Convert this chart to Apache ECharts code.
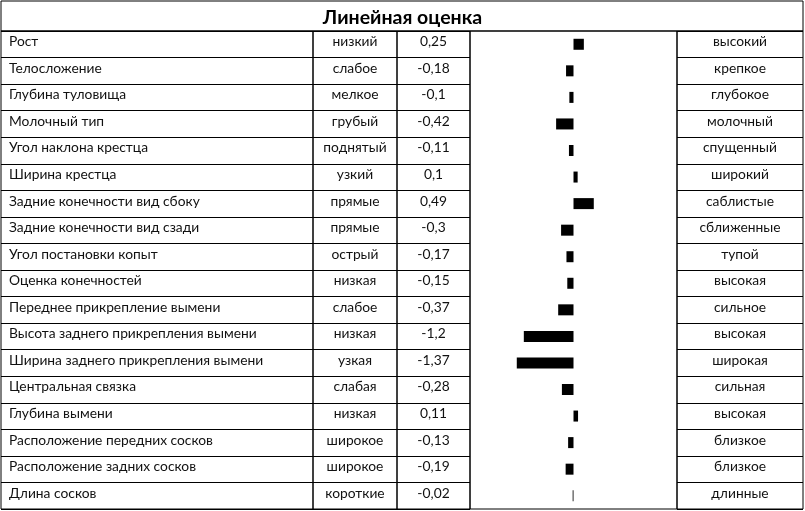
<!DOCTYPE html>
<html><head><meta charset="utf-8">
<script src="https://cdn.jsdelivr.net/npm/echarts@6/dist/echarts.min.js"></script>
<style>html,body{margin:0;padding:0;background:#fff}#c{width:805px;height:511px}</style>
</head><body><div id="c"></div>
<script>
const title = 'Линейная оценка';
const traits = ['Рост','Телосложение','Глубина туловища','Молочный тип','Угол наклона крестца','Ширина крестца','Задние конечности вид сбоку','Задние конечности вид сзади','Угол постановки копыт','Оценка конечностей','Переднее прикрепление вымени','Высота заднего прикрепления вымени','Ширина заднего прикрепления вымени','Центральная связка','Глубина вымени','Расположение передних сосков','Расположение задних сосков','Длина сосков'];
const lowLabels = ['низкий','слабое','мелкое','грубый','поднятый','узкий','прямые','прямые','острый','низкая','слабое','низкая','узкая','слабая','низкая','широкое','широкое','короткие'];
const values = [0.25,-0.18,-0.1,-0.42,-0.11,0.1,0.49,-0.3,-0.17,-0.15,-0.37,-1.2,-1.37,-0.28,0.11,-0.13,-0.19,-0.02];
const highLabels = ['высокий','крепкое','глубокое','молочный','спущенный','широкий','саблистые','сближенные','тупой','высокая','сильное','высокая','широкая','сильная','высокая','близкое','близкое','длинные'];

const valueLabels = values.map(v => String(v).replace('.', ','));
const FONT = 'Lato';
const TOP = 31, H = 478;
const cols = [
  {left: 1, width: 312, data: traits, align: 'left', margin: 8, lines: true},
  {left: 313, width: 84, data: lowLabels, align: 'center', lines: true},
  {left: 397, width: 73, data: valueLabels, align: 'center', lines: true},
  {left: 470, width: 207, data: traits, align: null, lines: false},
  {left: 677, width: 126, data: highLabels, align: 'center', lines: true}
];
const grid = [], xAxis = [], yAxis = [];
cols.forEach((c, i) => {
  grid.push({left: c.left, top: TOP, width: c.width, height: H, show: true, borderColor: '#000', borderWidth: 1, backgroundColor: 'transparent'});
  xAxis.push(i === 3 ? {gridIndex: i, type: 'value', min: -2.5, max: 2.5, show: false}
                     : {gridIndex: i, type: 'value', min: 0, max: 1, show: false});
  yAxis.push({
    gridIndex: i, type: 'category', inverse: true, data: c.data,
    axisLine: {show: false}, axisTick: {show: false},
    splitLine: {show: c.lines, interval: 0, lineStyle: {color: '#000', width: 1}},
    axisLabel: c.align ? {show: true, inside: true, interval: 0, align: c.align,
      margin: c.align === 'center' ? c.width / 2 : c.margin,
      verticalAlign: 'bottom', lineHeight: 5,
      fontFamily: FONT, fontSize: 13.8, color: '#111'} : {show: false}
  });
});
// title row
grid.push({left: 1, top: 1, width: 802, height: 30, show: true, borderColor: '#000', borderWidth: 1});
xAxis.push({gridIndex: 5, type: 'value', show: false});
yAxis.push({gridIndex: 5, type: 'value', show: false});

const chart = echarts.init(document.getElementById('c'), null, {renderer: 'canvas'});
chart.setOption({
  animation: false,
  backgroundColor: '#fff',
  title: {text: title, left: 'center', top: 3, textStyle: {fontFamily: FONT, fontSize: 19.5, fontWeight: 'bold', color: '#000'}},
  grid, xAxis, yAxis,
  series: [{
    type: 'bar', xAxisIndex: 3, yAxisIndex: 3, data: values,
    barWidth: 11, itemStyle: {color: '#000'}
  }]
});
</script></body></html>
